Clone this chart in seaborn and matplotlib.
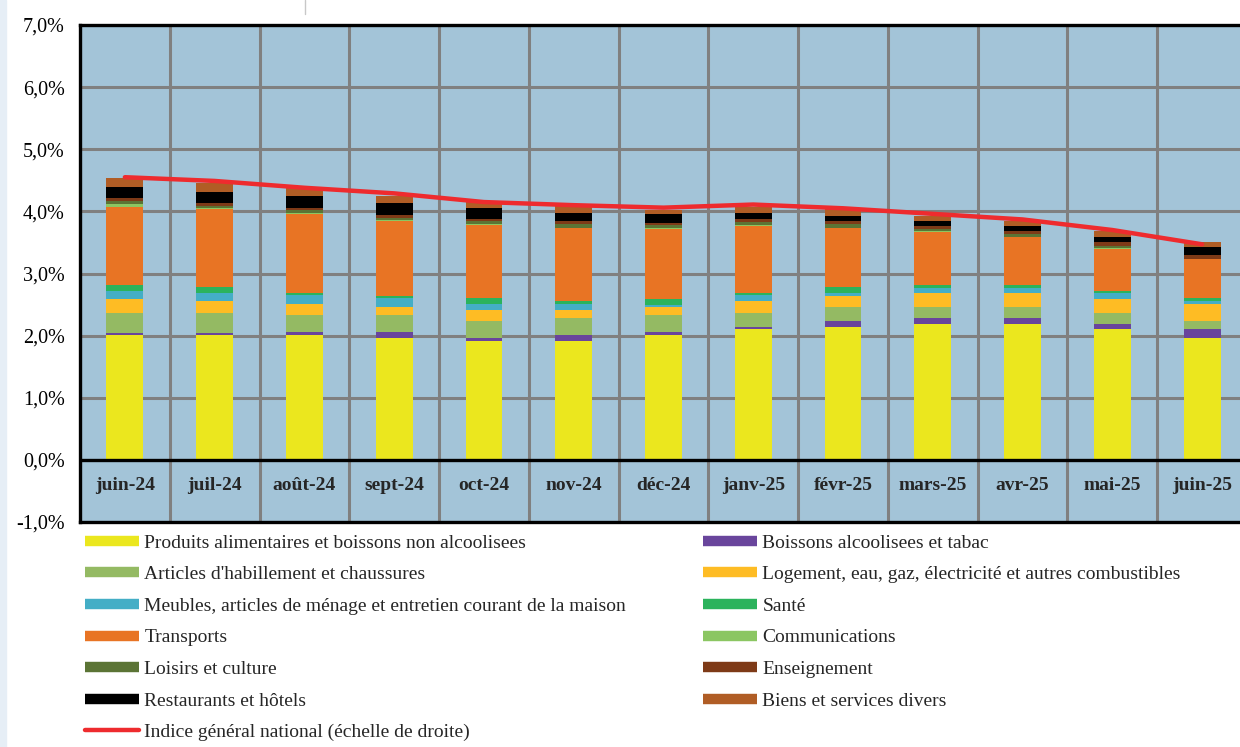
import numpy as np
import matplotlib
matplotlib.use("Agg")
import matplotlib.pyplot as plt
from matplotlib.lines import Line2D
from matplotlib.patches import Rectangle
import seaborn as sns

months = ["juin-24", "juil-24", "août-24", "sept-24", "oct-24", "nov-24", "déc-24",
          "janv-25", "févr-25", "mars-25", "avr-25", "mai-25", "juin-25"]

# contributions (points de %)
alim = [2.01, 2.01, 2.01, 1.96, 1.92, 1.92, 2.01, 2.10, 2.14, 2.18, 2.18, 2.10, 1.96]
boissons = [0.04, 0.04, 0.05, 0.10, 0.04, 0.09, 0.05, 0.04, 0.09, 0.10, 0.10, 0.09, 0.14]
habillement = [0.32, 0.32, 0.27, 0.27, 0.28, 0.27, 0.27, 0.23, 0.23, 0.18, 0.18, 0.18, 0.14]
logement = [0.22, 0.18, 0.18, 0.13, 0.17, 0.13, 0.13, 0.18, 0.18, 0.22, 0.22, 0.22, 0.27]
meubles = [0.13, 0.14, 0.14, 0.14, 0.10, 0.10, 0.04, 0.10, 0.05, 0.09, 0.09, 0.09, 0.04]
sante = [0.09, 0.09, 0.04, 0.04, 0.09, 0.04, 0.09, 0.04, 0.10, 0.04, 0.04, 0.04, 0.05]
transports = [1.26, 1.26, 1.26, 1.21, 1.18, 1.18, 1.13, 1.08, 0.94, 0.86, 0.77, 0.68, 0.63]
communications = [0.05, 0.01, 0.02, 0.01, 0.01, 0.01, 0.01, 0.01, 0.01, 0.01, 0.01, 0.01, 0.01]
loisirs = [0.05, 0.04, 0.05, 0.04, 0.05, 0.05, 0.05, 0.05, 0.05, 0.04, 0.05, 0.04, 0.00]
enseignement = [0.05, 0.04, 0.04, 0.04, 0.04, 0.05, 0.04, 0.05, 0.05, 0.04, 0.04, 0.05, 0.05]
restaurants = [0.17, 0.18, 0.18, 0.19, 0.18, 0.13, 0.13, 0.09, 0.08, 0.09, 0.09, 0.09, 0.13]
biens = [0.14, 0.15, 0.13, 0.11, 0.09, 0.11, 0.07, 0.10, 0.12, 0.08, 0.08, 0.09, 0.09]

indice = [4.55, 4.49, 4.38, 4.29, 4.15, 4.10, 4.06, 4.11, 4.05, 3.96, 3.87, 3.70, 3.47]

series = [
    ("Produits alimentaires et boissons non alcoolisees", alim, "#EBE71E"),
    ("Boissons alcoolisees et tabac", boissons, "#69459C"),
    ("Articles d'habillement et chaussures", habillement, "#94BA63"),
    ("Logement, eau, gaz, électricité et autres combustibles", logement, "#FEBC24"),
    ("Meubles, articles de ménage et entretien courant de la maison", meubles, "#44AEC6"),
    ("Santé", sante, "#2BB35C"),
    ("Transports", transports, "#E87424"),
    ("Communications", communications, "#8BC662"),
    ("Loisirs et culture", loisirs, "#5B7435"),
    ("Enseignement", enseignement, "#7E3A17"),
    ("Restaurants et hôtels", restaurants, "#000000"),
    ("Biens et services divers", biens, "#B05D25"),
]
indice_label = "Indice général national (échelle de droite)"

sns.set_style("white")
plt.rcParams["font.family"] = ["Liberation Serif", "DejaVu Serif"]

fig = plt.figure(figsize=(12.4, 7.47), dpi=100)
fig.patches.append(Rectangle((0, 0), 6 / 1240, 1, transform=fig.transFigure,
                             color="#E6EEF6", zorder=0))
fig.lines.append(Line2D([305 / 1240, 305 / 1240], [1, 1 - 14 / 747],
                        transform=fig.transFigure, color="#C8C8C8", lw=1))

ax = fig.add_axes([80 / 1240, 225 / 747, 1167 / 1240, 497 / 747])
ax.set_facecolor("#A3C4D8")

bottom = np.zeros(len(months))
for name, vals, col in series:
    sns.barplot(x=months, y=vals, bottom=bottom, color=col, saturation=1,
                width=0.41, linewidth=0, errorbar=None, ax=ax, zorder=3)
    bottom = bottom + np.array(vals)

sns.lineplot(x=np.arange(len(months)), y=indice, color="#EE2B2E", lw=3.2,
             ax=ax, zorder=5, solid_capstyle="round")

ax.set_xlim(-0.5, len(months) - 0.5)
ax.set_ylim(-1, 7)
ax.set_xlabel("")
ax.set_ylabel("")

ax.set_yticks(np.arange(-1, 8, 1))
ax.set_yticklabels([f"{v:.1f}%".replace(".", ",") for v in np.arange(-1, 8, 1)],
                   fontsize=14.5)
ax.tick_params(axis="y", direction="in", length=4, width=2, pad=11, colors="black")

ax.set_xticks(np.arange(-0.5, len(months), 1))
ax.set_xticklabels([])
ax.tick_params(axis="x", length=0)
ax.grid(True, color="#808080", lw=2.2, zorder=1)
ax.set_axisbelow(True)

for i, m in enumerate(months):
    ax.text(i, -0.41, m, ha="center", va="center", fontsize=14,
            fontweight="bold", zorder=6)

ax.axhline(0, color="black", lw=2.4, zorder=4)
for s in ax.spines.values():
    s.set_color("black")
    s.set_linewidth(2.4)

handles = [Line2D([0], [0], color=c, lw=7.5, solid_capstyle="butt") for _, _, c in series]
labels = [n for n, _, _ in series]
h_red = Line2D([0], [0], color="#EE2B2E", lw=3.2, solid_capstyle="round")

left_h = handles[0::2] + [h_red]
left_l = labels[0::2] + [indice_label]
right_h = handles[1::2]
right_l = labels[1::2]

kw = dict(loc="upper left", frameon=False, fontsize=14, handlelength=2.78,
          handletextpad=0.27, labelspacing=0.72, borderpad=0, borderaxespad=0)
fig.legend(left_h, left_l, bbox_to_anchor=(85 / 1240, 1 - 534 / 747), **kw)
fig.legend(right_h, right_l, bbox_to_anchor=(703 / 1240, 1 - 534 / 747), **kw)

fig.savefig("out.png", dpi=100, facecolor="white")
